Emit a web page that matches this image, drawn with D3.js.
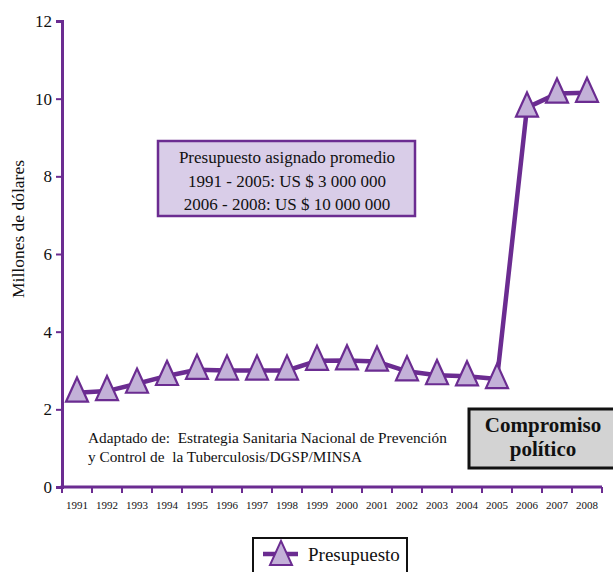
<!DOCTYPE html>
<html>
<head>
<meta charset="utf-8">
<script src="https://cdn.jsdelivr.net/npm/d3@7"></script>
<style>
  html, body { margin: 0; padding: 0; background: #fff; }
  svg { display: block; font-family: "Liberation Serif", "Times New Roman", serif; }
  svg text { white-space: pre; }
</style>
</head>
<body>
<svg id="chart" width="613" height="572"></svg>
<script>
// Presupuesto anual (millones de US$)
const years = ["1991","1992","1993","1994","1995","1996","1997","1998","1999",
               "2000","2001","2002","2003","2004","2005","2006","2007","2008"];
const budget = [2.43, 2.47, 2.66, 2.86, 3.02, 3.0, 3.0, 3.0, 3.25,
                3.26, 3.23, 2.98, 2.88, 2.85, 2.78, 9.77, 10.13, 10.15];
const yTicks = [0, 2, 4, 6, 8, 10, 12];
const noteLines = ["Presupuesto asignado promedio",
                   "1991 - 2005: US $ 3 000 000",
                   "2006 - 2008: US $ 10 000 000"];
const sourceLines = ["Adaptado de:  Estrategia Sanitaria Nacional de Prevención",
                     "y Control de  la Tuberculosis/DGSP/MINSA"];
const calloutLines = ["Compromiso", "político"];
const seriesName = "Presupuesto";

const purple = "#6b2c91";
const lilac = "#c3b1d8";

const svg = d3.select("#chart");
const plotLeft = 62, plotRight = 602, plotTop = 21, plotBottom = 487;

const x = d3.scaleBand().domain(years).range([plotLeft, plotRight]).padding(0);
const y = d3.scaleLinear().domain([0, 12]).range([plotBottom, plotTop]);

// Y axis
const yAxis = svg.append("g")
  .attr("transform", `translate(${plotLeft},0)`)
  .call(d3.axisLeft(y).tickValues(yTicks).tickSize(6).tickPadding(4).tickFormat(d3.format("d")));
yAxis.select(".domain").attr("stroke", purple).attr("stroke-width", 3);
yAxis.selectAll(".tick line").attr("stroke", purple).attr("stroke-width", 2);
yAxis.selectAll(".tick text")
  .attr("fill", "#111").style("font-size", "17px")
  .style("font-family", "Liberation Serif, serif");

svg.append("text")
  .attr("transform", `translate(24,229) rotate(-90)`)
  .attr("text-anchor", "middle")
  .style("font-size", "17.5px").attr("fill", "#111")
  .text("Millones de dólares");

// X axis: ticks sit on band boundaries, labels centered in bands
const xg = svg.append("g");
xg.append("line")
  .attr("x1", plotLeft - 1.5).attr("x2", plotRight)
  .attr("y1", plotBottom).attr("y2", plotBottom)
  .attr("stroke", purple).attr("stroke-width", 3);
const boundaries = years.map(d => x(d)).concat([x(years[years.length - 1]) + x.bandwidth()]);
xg.selectAll("line.tick").data(boundaries).join("line")
  .attr("class", "tick")
  .attr("x1", d => d).attr("x2", d => d)
  .attr("y1", plotBottom).attr("y2", plotBottom + 6)
  .attr("stroke", purple).attr("stroke-width", 2);
xg.selectAll("text").data(years).join("text")
  .attr("x", d => x(d) + x.bandwidth() / 2)
  .attr("y", plotBottom + 22)
  .attr("text-anchor", "middle")
  .style("font-size", "11px").attr("fill", "#111")
  .text(d => d);

// Series line
const pts = years.map((yr, i) => ({ yr, v: budget[i] }));
const line = d3.line().x(d => x(d.yr) + x.bandwidth() / 2).y(d => y(d.v));
svg.append("path")
  .datum(pts)
  .attr("fill", "none").attr("stroke", purple)
  .attr("stroke-width", 4.5).attr("stroke-linejoin", "round")
  .attr("d", line);

// Slightly tall triangle marker, centred on its centroid
const tallTriangle = {
  draw(ctx, size) {
    const w = Math.sqrt(size), h = w * 1.1;
    ctx.moveTo(0, -h * 2 / 3);
    ctx.lineTo(w / 2, h / 3);
    ctx.lineTo(-w / 2, h / 3);
    ctx.closePath();
  }
};
const tri = d3.symbol().type(tallTriangle).size(22 * 22);
svg.selectAll("path.marker").data(pts).join("path")
  .attr("class", "marker")
  .attr("transform", d => `translate(${x(d.yr) + x.bandwidth() / 2},${y(d.v) + 1})`)
  .attr("d", tri)
  .attr("fill", lilac).attr("stroke", purple).attr("stroke-width", 2.2)
  .attr("stroke-linejoin", "miter");

// Average budget note
svg.append("rect")
  .attr("x", 158).attr("y", 141).attr("width", 257).attr("height", 75)
  .attr("fill", "#d9cde8").attr("stroke", purple).attr("stroke-width", 2.5);
svg.selectAll("text.note").data(noteLines).join("text")
  .attr("class", "note")
  .attr("x", 287).attr("y", (d, i) => 163 + i * 23.5)
  .attr("text-anchor", "middle")
  .style("font-size", "17px").attr("fill", "#111")
  .text(d => d);

// Source text
svg.selectAll("text.source").data(sourceLines).join("text")
  .attr("class", "source")
  .attr("x", 88).attr("y", (d, i) => 443 + i * 19)
  .style("font-size", "15.3px").attr("fill", "#111")
  .text(d => d);

// Callout box
svg.append("rect")
  .attr("x", 469).attr("y", 409).attr("width", 150).attr("height", 59)
  .attr("fill", "#d3d3d3").attr("stroke", "#111").attr("stroke-width", 3);
svg.selectAll("text.callout").data(calloutLines).join("text")
  .attr("class", "callout")
  .attr("x", 543).attr("y", (d, i) => 432 + i * 24)
  .attr("text-anchor", "middle")
  .style("font-size", "21px").style("font-weight", "bold").attr("fill", "#111")
  .text(d => d);

// Legend
const lg = svg.append("g");
lg.append("rect")
  .attr("x", 253).attr("y", 538).attr("width", 154).attr("height", 40)
  .attr("fill", "#fff").attr("stroke", "#111").attr("stroke-width", 2);
lg.append("line")
  .attr("x1", 263).attr("x2", 298).attr("y1", 554).attr("y2", 554)
  .attr("stroke", purple).attr("stroke-width", 4.5);
lg.append("path")
  .attr("transform", "translate(281,557)")
  .attr("d", tri)
  .attr("fill", lilac).attr("stroke", purple).attr("stroke-width", 2);
lg.append("text")
  .attr("x", 308).attr("y", 561)
  .style("font-size", "19px").attr("fill", "#111")
  .text(seriesName);
</script>
</body>
</html>
